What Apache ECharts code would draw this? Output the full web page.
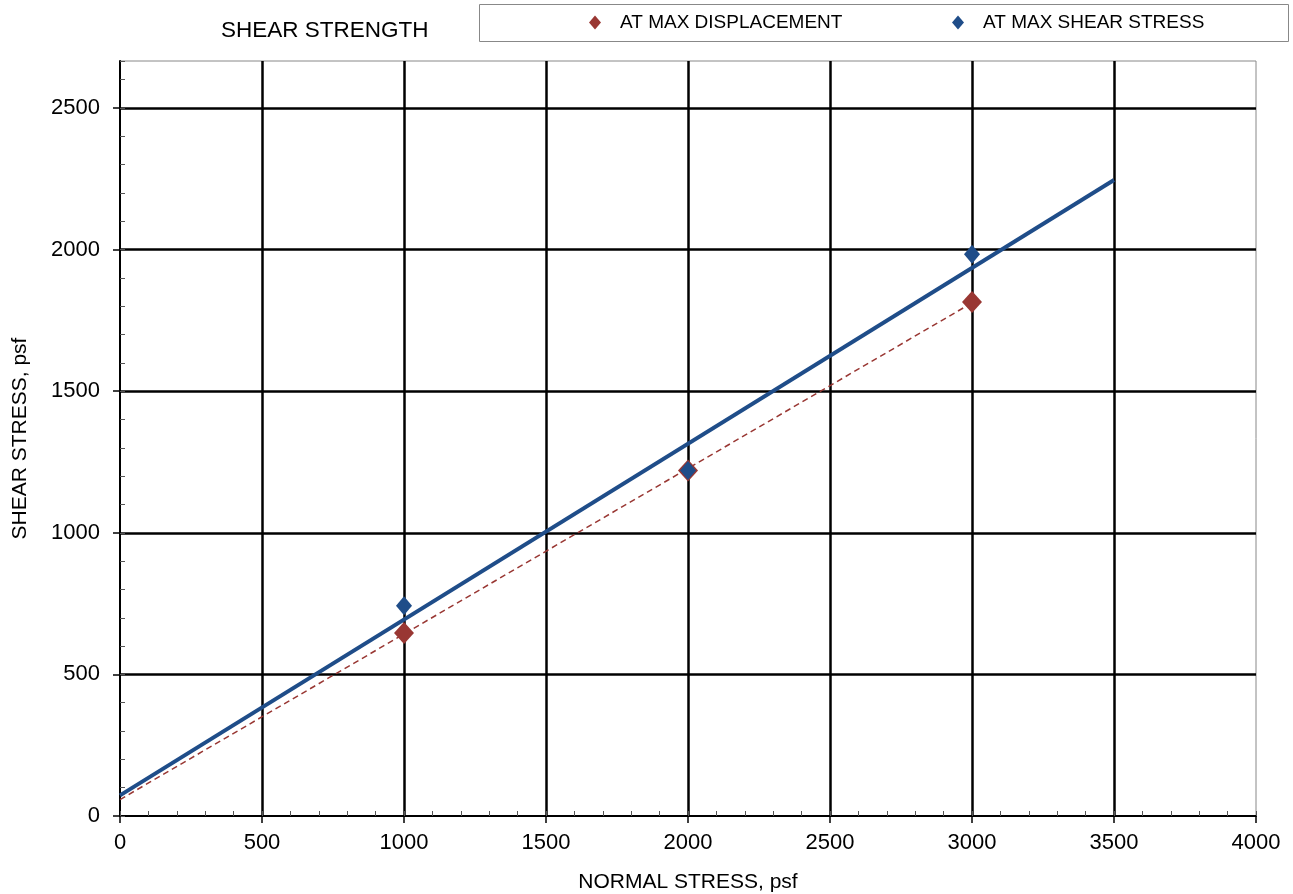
<!DOCTYPE html>
<html><head><meta charset="utf-8">
<script src="https://cdn.jsdelivr.net/npm/echarts@6/dist/echarts.min.js"></script>
<style>html,body{margin:0;padding:0;background:#fff}#c{width:1293px;height:894px}</style>
</head><body><div id="c"></div>
<script>
const titleText = 'SHEAR STRENGTH';
const xName = 'NORMAL STRESS, psf';
const yName = 'SHEAR STRESS, psf';
const seriesNames = ['AT MAX DISPLACEMENT', 'AT MAX SHEAR STRESS'];
const normalStress = [1000, 2000, 3000];
const shearAtMaxDisp = [646, 1220, 1815];
const shearAtMaxStress = [742, 1220, 1984];
const trendMaxDisp = [[0, 58], [3000, 1812]];
const trendMaxStress = [[0, 73], [3500, 2246]];
const xMax = 4000, yMax = 2666;

const RED = '#993733', BLUE = '#1F4D89';
const FONT = 'Liberation Sans';
const chart = echarts.init(document.getElementById('c'));
const pts = (ys) => normalStress.map((x, i) => [x, ys[i]]);
const plain = (v) => String(v);
chart.setOption({
  animation: false,
  textStyle: { fontFamily: FONT, color: '#000' },
  title: { text: titleText, left: 216, top: 14, textStyle: { fontFamily: FONT, fontSize: 22.5, fontWeight: 'normal', color: '#000' } },
  graphic: [{ type: 'rect', shape: { x: 479.5, y: 4.5, width: 809, height: 37 }, style: { fill: '#fff', stroke: '#888', lineWidth: 1 }, z: -1 }],
  legend: [
    { data: [{ name: seriesNames[0], icon: 'diamond' }], left: 584, top: 8, itemWidth: 12, itemHeight: 14,
      textStyle: { fontFamily: FONT, fontSize: 19, color: '#000', padding: [0, 0, 0, 14] } },
    { data: [{ name: seriesNames[1], icon: 'diamond' }], left: 947, top: 8, itemWidth: 12, itemHeight: 14,
      textStyle: { fontFamily: FONT, fontSize: 19, color: '#000', padding: [0, 0, 0, 14] } }
  ],
  grid: { left: 120, right: 37, top: 61, bottom: 78, show: true, borderColor: '#888', borderWidth: 1,
    containLabel: false, outerBoundsMode: 'none' },
  xAxis: [
    { type: 'value', min: 0, max: xMax, interval: 500, name: xName, nameLocation: 'middle', nameGap: 56,
      nameTextStyle: { fontFamily: FONT, fontSize: 21, color: '#000' },
      axisLine: { show: true, lineStyle: { color: '#000', width: 2 } },
      axisTick: { show: true, inside: false, length: 7, lineStyle: { color: '#000', width: 1.5 } },
      axisLabel: { fontFamily: FONT, fontSize: 22, color: '#000', margin: 16, formatter: plain },
      splitLine: { show: true, showMinLine: false, showMaxLine: false, lineStyle: { color: '#000', width: 2.5 } } },
    { type: 'value', min: 0, max: xMax, interval: 100, position: 'bottom',
      axisLine: { show: false }, axisLabel: { show: false }, splitLine: { show: false },
      axisTick: { show: true, inside: true, length: 5, lineStyle: { color: '#555', width: 1 } } }
  ],
  yAxis: [
    { type: 'value', min: 0, max: yMax, interval: 500, name: yName, nameLocation: 'middle', nameGap: 89,
      nameTextStyle: { fontFamily: FONT, fontSize: 21, color: '#000' },
      axisLine: { show: true, lineStyle: { color: '#000', width: 2 } },
      axisTick: { show: true, inside: false, length: 7, lineStyle: { color: '#000', width: 1.5 } },
      axisLabel: { fontFamily: FONT, fontSize: 22, color: '#000', margin: 20, showMaxLabel: false, formatter: plain },
      splitLine: { show: true, showMinLine: false, showMaxLine: false, lineStyle: { color: '#000', width: 2.5 } } },
    { type: 'value', min: 0, max: yMax, interval: 100, position: 'left',
      axisLine: { show: false }, axisLabel: { show: false }, splitLine: { show: false },
      axisTick: { show: true, inside: true, length: 5, lineStyle: { color: '#555', width: 1 } } }
  ],
  series: [
    { name: seriesNames[0] + ' trend', type: 'line', data: trendMaxDisp, symbol: 'none', z: 3,
      lineStyle: { color: RED, width: 1.5, type: [6, 4] } },
    { name: seriesNames[1] + ' trend', type: 'line', data: trendMaxStress, symbol: 'none', z: 4,
      lineStyle: { color: BLUE, width: 4 } },
    { name: seriesNames[0], type: 'scatter', data: pts(shearAtMaxDisp), symbol: 'diamond', symbolSize: [20, 22], z: 5,
      itemStyle: { color: RED, opacity: 1 } },
    { name: seriesNames[1], type: 'scatter', data: pts(shearAtMaxStress), symbol: 'diamond', symbolSize: [16, 19], z: 5,
      itemStyle: { color: BLUE, opacity: 1 } }
  ]
});
</script></body></html>
